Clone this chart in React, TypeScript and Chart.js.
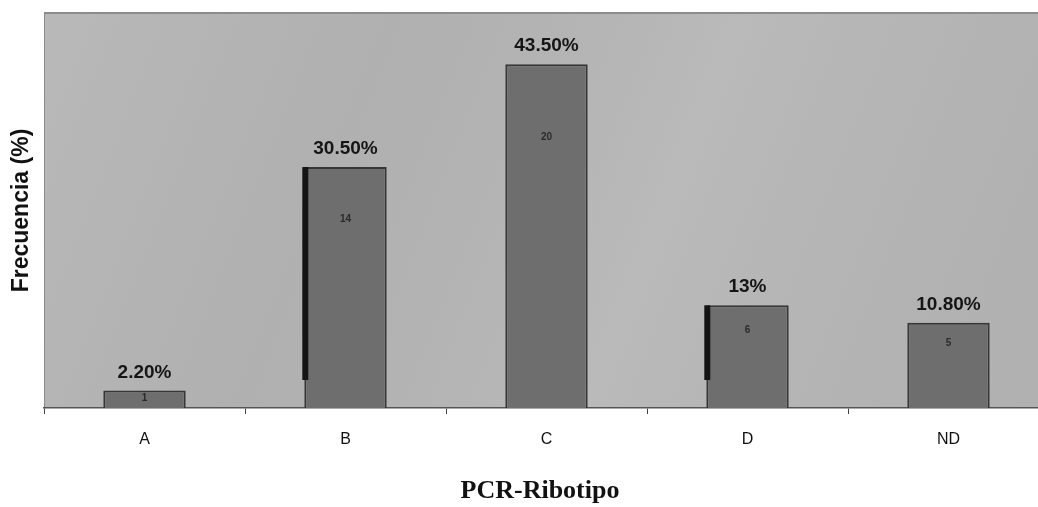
import React, { useEffect, useRef } from "react";
import { Chart, registerables } from "chart.js";

Chart.register(...registerables);

const categories = ["A", "B", "C", "D", "ND"];
const frequencies = [2.2, 30.5, 43.5, 13, 10.8];
const percentLabels = ["2.20%", "30.50%", "43.50%", "13%", "10.80%"];
const counts = [1, 14, 20, 6, 5];
const shadowedBars = [1, 3];

const bgPlugin = {
  id: "plotBg",
  beforeDraw(chart: any) {
    const { ctx, chartArea } = chart;
    const { left, top, right, bottom } = chartArea;
    ctx.save();
    ctx.fillStyle = "#b6b6b6";
    ctx.fillRect(left, top, right - left, bottom - top);
    const g = ctx.createLinearGradient(left, top, right, bottom);
    g.addColorStop(0, "rgba(255,255,255,0.04)");
    g.addColorStop(0.3, "rgba(0,0,0,0.03)");
    g.addColorStop(0.6, "rgba(255,255,255,0.05)");
    g.addColorStop(1, "rgba(0,0,0,0.03)");
    ctx.fillStyle = g;
    ctx.fillRect(left, top, right - left, bottom - top);
    ctx.strokeStyle = "#8c8c8c";
    ctx.lineWidth = 2;
    ctx.beginPath();
    ctx.moveTo(left, top);
    ctx.lineTo(right, top);
    ctx.stroke();
    ctx.restore();
  },
};

const labelPlugin = {
  id: "barLabels",
  afterDatasetsDraw(chart: any) {
    const { ctx } = chart;
    const meta = chart.getDatasetMeta(0);
    const base = chart.scales.y.getPixelForValue(0);
    ctx.save();
    meta.data.forEach((bar: any, i: number) => {
      const w = bar.width;
      if (shadowedBars.includes(i)) {
        ctx.fillStyle = "#141414";
        ctx.fillRect(bar.x - w / 2 - 2, bar.y, 6, base - 28 - bar.y);
      }
      ctx.fillStyle = "#151515";
      ctx.font = "bold 19px 'Liberation Sans', Arial, sans-serif";
      ctx.textAlign = "center";
      ctx.textBaseline = "alphabetic";
      ctx.fillText(percentLabels[i], bar.x, bar.y - 13);
      const h = base - bar.y;
      ctx.font = "bold 10px 'Liberation Sans', Arial, sans-serif";
      ctx.fillStyle = "#2a2a2a";
      ctx.textBaseline = "middle";
      ctx.fillText(String(counts[i]), bar.x, bar.y + 0.2 * h + 4);
    });
    ctx.restore();
  },
  afterDraw(chart: any) {
    const { ctx, chartArea } = chart;
    ctx.save();
    ctx.fillStyle = "#111";
    ctx.font = "bold 23px 'Liberation Sans', Arial, sans-serif";
    ctx.textAlign = "center";
    ctx.textBaseline = "middle";
    ctx.translate(22, (chartArea.top + chartArea.bottom) / 2);
    ctx.rotate(-Math.PI / 2);
    ctx.fillText("Frecuencia (%)", 0, 0);
    ctx.restore();
    ctx.save();
    ctx.fillStyle = "#111";
    ctx.font = "bold 26px 'Liberation Serif', 'Times New Roman', serif";
    ctx.textAlign = "center";
    ctx.textBaseline = "middle";
    ctx.fillText("PCR-Ribotipo", 540, 491);
    ctx.restore();
  },
};

export default function App() {
  const ref = useRef<HTMLCanvasElement>(null);
  useEffect(() => {
    document.body.style.margin = "0";
    document.body.style.overflow = "hidden";
    const chart = new Chart(ref.current as HTMLCanvasElement, {
      type: "bar",
      data: {
        labels: categories,
        datasets: [
          {
            data: frequencies,
            backgroundColor: "#6e6e6e",
            borderColor: "#363636",
            borderWidth: 2,
            categoryPercentage: 1,
            barPercentage: 0.41,
          },
        ],
      },
      options: {
        animation: false,
        responsive: false,
        maintainAspectRatio: false,
        layout: { padding: { top: 13, right: 1, left: 0, bottom: 0 } },
        plugins: { legend: { display: false }, tooltip: { enabled: false } },
        scales: {
          y: {
            min: 0,
            max: 50,
            ticks: { display: false },
            grid: { display: false },
            border: { display: true, color: "#8a8a8a", width: 1 },
            afterFit(scale: any) {
              scale.width = 44;
            },
          },
          x: {
            offset: true,
            grid: {
              display: true,
              drawOnChartArea: false,
              tickLength: 6,
              color: "#444",
              offset: true,
            },
            border: { display: true, color: "#555", width: 1.5 },
            ticks: {
              color: "#111",
              padding: 16,
              font: { size: 16, family: "'Liberation Sans', Arial, sans-serif" },
            },
            afterFit(scale: any) {
              scale.height = 99;
            },
          },
        },
      },
      plugins: [bgPlugin, labelPlugin],
    });
    return () => chart.destroy();
  }, []);
  return (
    <div style={{ width: 1050, height: 507, overflow: "hidden" }}>
      <canvas ref={ref} width={1050} height={507} style={{ display: "block" }} />
    </div>
  );
}
